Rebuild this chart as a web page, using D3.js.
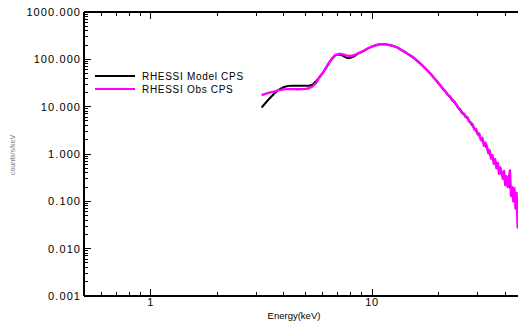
<!DOCTYPE html>
<html>
<head>
<meta charset="utf-8">
<script src="https://cdn.jsdelivr.net/npm/d3@7/dist/d3.min.js"></script>
<style>
  html, body { margin: 0; padding: 0; background: #fff; }
  svg { display: block; }
  text { font-family: "Liberation Sans", Arial, Helvetica, sans-serif; fill: #000; }
</style>
</head>
<body>
<svg id="chart" width="518" height="334"></svg>
<script>
// RHESSI count spectrum: observed vs. model counts per second per keV
const obsEnergy = [
  3.17, 3.4, 3.6, 3.8, 4.0, 4.2, 4.4, 4.6, 4.8, 5.0, 5.2, 5.4, 5.6, 5.8, 6.0, 6.2, 6.4, 6.6, 6.8, 7.0,
  7.2, 7.4, 7.6, 7.8, 8.0, 8.3, 8.6, 9.0, 9.3, 9.6, 10.0, 10.4, 10.8, 11.2, 11.6, 12.0, 12.5, 13.0, 13.5, 14.0,
  14.5, 15.0, 15.5, 16.0, 16.5, 17.0, 17.5, 18.0, 18.5, 19.0, 19.5, 20.0, 20.5, 21.0, 21.5, 22.0, 22.5, 23.0, 23.5, 24.0,
  24.5, 25.0, 25.5, 26.0, 26.5, 27.0, 27.5, 28.0, 28.5, 29.0, 29.5, 30.0, 30.5, 31.0, 31.5, 32.0, 32.5, 33.0, 33.5, 34.0,
  34.5, 35.0, 35.5, 36.0, 36.5, 37.0, 37.5, 38.0, 38.5, 39.0, 39.5, 40.0, 40.5, 41.0, 41.5, 42.0, 42.5, 43.0, 43.5, 44.0,
  44.5, 45.0, 45.5, 46.0
];
const obsCounts = [
  17.6, 19.5, 20.8, 22.3, 23.2, 23.5, 23.5, 23.4, 23.5, 23.8, 24.5, 27, 32, 43, 52, 67, 85, 104, 122, 128,
  130, 127, 122, 118, 118, 122, 132, 145, 158, 172, 186, 198, 208, 210, 205, 200, 190, 178, 160, 145,
  130, 118, 106, 93, 82, 72, 63, 55, 48, 41, 36, 31, 27.2, 23.0, 21.0, 17.6, 16.6, 13.6, 13.0, 11.4,
  9.4, 8.9, 7.3, 7.2, 6.0, 5.9, 4.8, 4.6, 4.2, 3.3, 3.4, 2.6, 2.7, 2.0, 2.2, 1.5, 1.75, 1.5, 1.05, 1.2,
  0.8, 0.95, 0.62, 0.78, 0.5, 0.65, 0.38, 0.52, 0.4, 0.3, 0.44, 0.22, 0.34, 0.2, 0.3, 0.45, 0.13, 0.2, 0.1, 0.19,
  0.07, 0.15, 0.028, 0.1
];
const modelEnergy = [
  3.17, 3.4, 3.6, 3.8, 4.0, 4.2, 4.4, 4.6, 4.8, 5.0, 5.2, 5.4, 5.6, 5.8, 6.0, 6.2, 6.4, 6.6, 6.8, 7.0,
  7.2, 7.4, 7.6, 7.8, 8.0, 8.3, 8.6, 9.0, 9.3, 9.6, 10.0, 10.4, 10.8, 11.2, 11.6, 12.0, 12.5, 13.0, 13.5, 14.0,
  14.5, 15.0, 15.5, 16.0, 16.5, 17.0, 17.5, 18.0, 18.5, 19.0, 19.5, 20.0, 21.0, 22.0, 23.0, 24.0, 25.0, 26.0, 27.0, 28.0,
  29.0, 30.0, 31.0, 32.0, 33.0, 34.0, 35.0, 36.0, 37.0, 38.0, 39.0, 40.0, 41.0, 42.0, 43.0, 44.0, 45.0, 46.0
];
const modelCounts = [
  9.6, 14, 18.5, 23, 26, 27.5, 27.7, 27.7, 27.7, 27.7, 27.8, 29.5, 35, 42, 52, 66, 84, 103, 120, 126,
  124, 118, 110, 106, 108, 116, 130, 144, 157, 171, 186, 199, 209, 211, 207, 201, 191, 179, 161, 146,
  131, 118, 106, 93, 82, 72, 63, 55, 48, 41, 36, 31, 23.5, 18, 14.2, 11.0, 8.5, 6.9, 5.7, 4.4,
  3.5, 2.8, 2.15, 1.7, 1.35, 1.0, 0.8, 0.64, 0.51, 0.42, 0.35, 0.30, 0.25, 0.20, 0.165, 0.135, 0.11, 0.09
];
const yTickValues = [0.001, 0.01, 0.1, 1, 10, 100, 1000];
const xTickValues = [1, 10];
const legendLabels = ["RHESSI Model CPS", "RHESSI Obs CPS"];
const seriesColors = ["#000000", "#ff00ff"];

(function () {
  const svg = d3.select("#chart");
  svg.append("rect").attr("width", 518).attr("height", 334).attr("fill", "#fff");

  const x0 = 84.1, x1 = 526.7, y0 = 12, y1 = 296;
  const x = d3.scaleLog().domain([0.5, 50]).range([x0, x1]);
  const y = d3.scaleLog().domain([0.001, 1000]).range([y1, y0]);

  // minor tick positions: 2..9 within each decade
  const xMinor = [];
  [0.1, 1, 10].forEach(d => { for (let k = 2; k <= 9; k++) { const v = d * k; if (v > 0.5 && v < 50) xMinor.push(v); } });
  const yMinor = [];
  [0.001, 0.01, 0.1, 1, 10, 100].forEach(d => { for (let k = 2; k <= 9; k++) yMinor.push(d * k); });

  const axes = svg.append("g").attr("stroke", "#000").attr("shape-rendering", "crispEdges");
  // frame
  axes.append("line").attr("x1", x0).attr("x2", x1).attr("y1", y1).attr("y2", y1).attr("stroke-width", 1.6);
  axes.append("line").attr("x1", x0).attr("x2", x1).attr("y1", y0).attr("y2", y0).attr("stroke-width", 1.6);
  axes.append("line").attr("x1", x0).attr("x2", x0).attr("y1", y0).attr("y2", y1).attr("stroke-width", 1.6);
  axes.append("line").attr("x1", x1).attr("x2", x1).attr("y1", y0).attr("y2", y1).attr("stroke-width", 1.6);

  // x ticks, bottom and top, pointing inward
  function xTick(v, len) {
    axes.append("line").attr("x1", x(v)).attr("x2", x(v)).attr("y1", y1).attr("y2", y1 - len).attr("stroke-width", 1);
    axes.append("line").attr("x1", x(v)).attr("x2", x(v)).attr("y1", y0).attr("y2", y0 + len).attr("stroke-width", 1);
  }
  xTickValues.forEach(v => xTick(v, 7));
  xMinor.forEach(v => xTick(v, 4));

  // y ticks, left and right
  function yTick(v, len) {
    axes.append("line").attr("x1", x0).attr("x2", x0 + len).attr("y1", y(v)).attr("y2", y(v)).attr("stroke-width", 1);
    axes.append("line").attr("x1", x1).attr("x2", x1 - len).attr("y1", y(v)).attr("y2", y(v)).attr("stroke-width", 1);
  }
  yTickValues.forEach(v => yTick(v, 7));
  yMinor.forEach(v => yTick(v, 4));

  // tick labels
  const fmtY = d3.format(".3f");
  svg.append("g").selectAll("text").data(yTickValues).join("text")
    .attr("x", x0 - 3).attr("y", d => y(d) + 4)
    .attr("text-anchor", "end").attr("font-size", 11).attr("letter-spacing", 1.1)
    .text(d => fmtY(d));
  svg.append("g").selectAll("text").data(xTickValues).join("text")
    .attr("x", d => x(d)).attr("y", 306)
    .attr("text-anchor", "middle").attr("font-size", 11).attr("letter-spacing", 0.6)
    .text(d => d3.format("d")(d));

  // axis titles
  svg.append("text").attr("x", 294).attr("y", 319).attr("text-anchor", "middle")
    .attr("font-size", 9.5).text("Energy(keV)");
  svg.append("text").attr("transform", "translate(15,155) rotate(-90)").attr("text-anchor", "middle")
    .attr("font-size", 7).style("fill", "#777").text("counts/s/keV");

  // spectra
  svg.append("clipPath").attr("id", "plotClip").append("rect")
    .attr("x", x0).attr("y", y0).attr("width", x1 - x0).attr("height", y1 - y0);
  const plot = svg.append("g").attr("clip-path", "url(#plotClip)");
  const line = d3.line().x(d => x(d[0])).y(d => y(d[1]));
  plot.append("path").datum(d3.zip(modelEnergy, modelCounts))
    .attr("d", line).attr("fill", "none").attr("stroke", seriesColors[0]).attr("stroke-width", 2);
  plot.append("path").datum(d3.zip(obsEnergy, obsCounts))
    .attr("d", line).attr("fill", "none").attr("stroke", seriesColors[1]).attr("stroke-width", 2.4)
    .attr("stroke-linejoin", "round");

  // legend
  const legend = svg.append("g");
  legendLabels.forEach((lab, i) => {
    const ly = 76 + i * 13;
    legend.append("line").attr("x1", 95).attr("x2", 135).attr("y1", ly).attr("y2", ly)
      .attr("stroke", seriesColors[i]).attr("stroke-width", 2.2);
    legend.append("text").attr("x", 142).attr("y", ly + 4).attr("font-size", 10)
      .attr("letter-spacing", 0.7).text(lab);
  });
})();
</script>
</body>
</html>
